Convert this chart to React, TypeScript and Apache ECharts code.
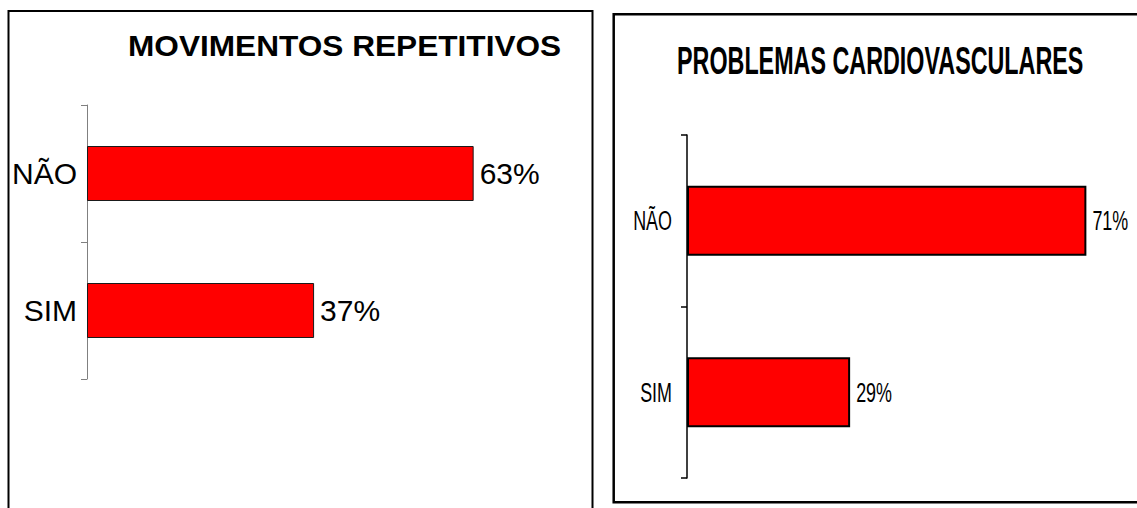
import React, { useEffect, useRef } from "react";
import * as echarts from "echarts";

const leftTitle = "MOVIMENTOS REPETITIVOS";
const rightTitle = "PROBLEMAS CARDIOVASCULARES";
const leftCategories = ["NÃO", "SIM"];
const leftValues = [0.63, 0.37];
const rightCategories = ["NÃO", "SIM"];
const rightValues = [0.71, 0.29];

const pctText = (v: number) => Math.round(v * 100) + "%";
const ARIAL = "'Liberation Sans', Arial, sans-serif";

export default function App() {
  const ref = useRef<HTMLDivElement>(null);
  useEffect(() => {
    if (!ref.current) return;
    const chart = echarts.init(ref.current, null, { renderer: "svg" });

    const baseGraphic: any[] = [
      {
        type: "rect",
        shape: { x: 8.5, y: 11, width: 584, height: 520 },
        style: { fill: "none", stroke: "#000", lineWidth: 2 },
        silent: true,
      },
      {
        type: "rect",
        shape: { x: 613.7, y: 14.3, width: 600, height: 488 },
        style: { fill: "none", stroke: "#000", lineWidth: 2.5 },
        silent: true,
      },
      {
        type: "text",
        x: 128,
        y: 46,
        scaleX: 1.09,
        scaleY: 1,
        style: {
          text: leftTitle,
          fontSize: 29,
          fontWeight: "bold",
          fontFamily: ARIAL,
          fill: "#000",
          textAlign: "left",
          textVerticalAlign: "middle",
        },
      },
      {
        type: "text",
        x: 677,
        y: 61,
        scaleX: 0.833,
        scaleY: 1.4,
        style: {
          text: rightTitle,
          fontSize: 28,
          fontWeight: "bold",
          fontFamily: ARIAL,
          fill: "#000",
          textAlign: "left",
          textVerticalAlign: "middle",
        },
      },
    ];

    chart.setOption({
      animation: false,
      backgroundColor: "#ffffff",
      grid: [
        { left: 87, top: 105, height: 274, width: 491 },
        { left: 687, top: 135, height: 343, width: 450 },
      ],
      xAxis: [
        { type: "value", gridIndex: 0, min: 0, max: 0.8, show: false },
        { type: "value", gridIndex: 1, min: 0, max: 0.8, show: false },
      ],
      yAxis: [
        {
          type: "category",
          gridIndex: 0,
          data: leftCategories,
          inverse: true,
          axisLine: { show: true, lineStyle: { color: "#808080", width: 1 } },
          axisTick: {
            show: true,
            alignWithLabel: false,
            length: 6,
            lineStyle: { color: "#808080", width: 1 },
          },
          axisLabel: { fontSize: 30, color: "#000", fontFamily: ARIAL, margin: 10 },
          splitLine: { show: false },
        },
        {
          type: "category",
          gridIndex: 1,
          data: rightCategories,
          inverse: true,
          axisLine: { show: true, lineStyle: { color: "#000", width: 1.5 } },
          axisTick: {
            show: true,
            alignWithLabel: false,
            length: 6,
            lineStyle: { color: "#000", width: 1.5 },
          },
          axisLabel: { show: false },
          splitLine: { show: false },
        },
      ],
      series: [
        {
          type: "bar",
          xAxisIndex: 0,
          yAxisIndex: 0,
          data: leftValues,
          barWidth: 55,
          itemStyle: { color: "#FF0000", borderColor: "#1a1a1a", borderWidth: 1 },
          label: {
            show: true,
            position: "right",
            distance: 6,
            formatter: (p: any) => pctText(p.value),
            fontSize: 30,
            color: "#000",
            fontFamily: ARIAL,
          },
        },
        {
          type: "bar",
          xAxisIndex: 1,
          yAxisIndex: 1,
          data: rightValues,
          barWidth: 70,
          itemStyle: { color: "#FF0000", borderColor: "#000", borderWidth: 2 },
          label: { show: false },
        },
      ],
      graphic: baseGraphic,
    });

    // Condensed labels for the right chart, placed through the chart's own scales
    const labels: any[] = [];
    rightCategories.forEach((cat, i) => {
      const axisPt = chart.convertToPixel({ gridIndex: 1 } as any, [0, i]) as number[];
      const endPt = chart.convertToPixel({ gridIndex: 1 } as any, [rightValues[i], i]) as number[];
      labels.push({
        type: "text",
        x: axisPt[0] - 15,
        y: axisPt[1],
        scaleX: 0.64,
        style: {
          text: cat,
          fontSize: 28,
          fontFamily: ARIAL,
          fill: "#000",
          textAlign: "right",
          textVerticalAlign: "middle",
        },
      });
      labels.push({
        type: "text",
        x: endPt[0] + 6,
        y: endPt[1],
        scaleX: 0.64,
        style: {
          text: pctText(rightValues[i]),
          fontSize: 28,
          fontFamily: ARIAL,
          fill: "#000",
          textAlign: "left",
          textVerticalAlign: "middle",
        },
      });
    });
    chart.setOption({ graphic: baseGraphic.concat(labels) });

    return () => chart.dispose();
  }, []);
  return (
    <div
      ref={ref}
      style={{ position: "fixed", left: 0, top: 0, width: 1137, height: 508 }}
    />
  );
}
